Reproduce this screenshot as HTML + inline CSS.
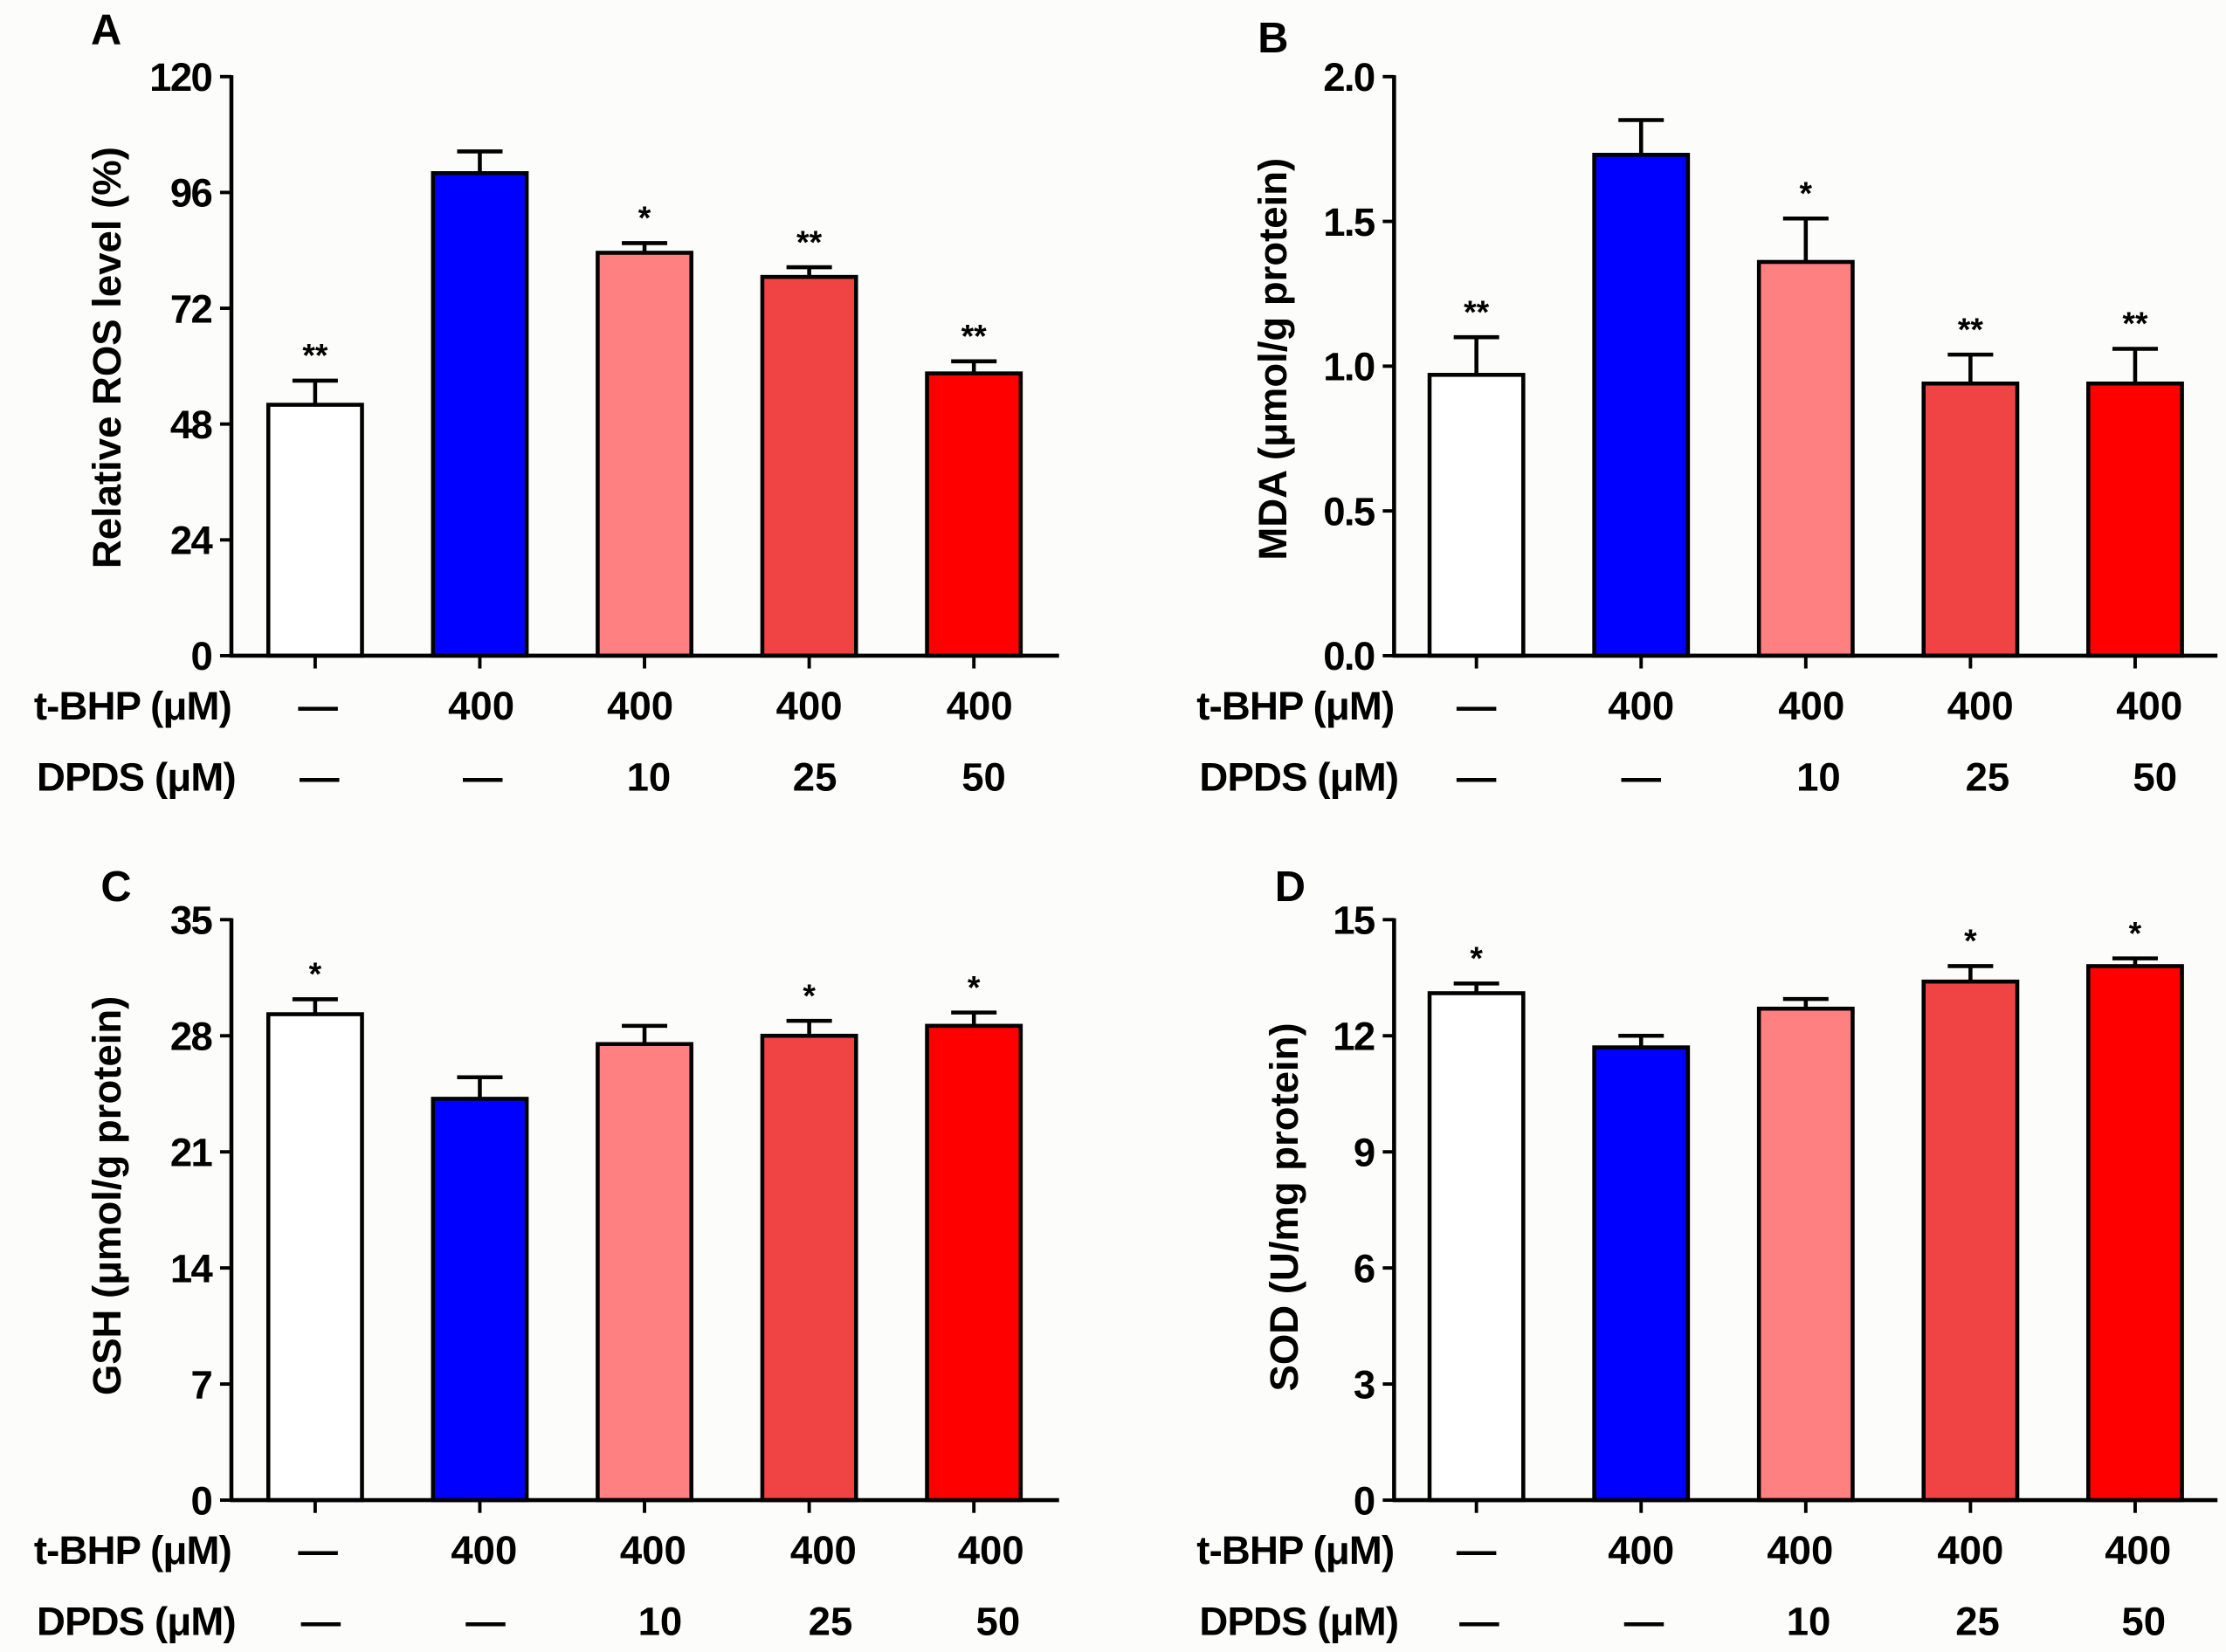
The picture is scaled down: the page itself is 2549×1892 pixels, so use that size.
<!DOCTYPE html>
<html><head><meta charset="utf-8">
<style>
html,body{margin:0;padding:0;background:#fcfcfa;}
svg{display:block;}
text{font-family:"Liberation Sans",Arial,sans-serif;font-weight:bold;fill:#000;}
</style></head>
<body>
<svg id="fig" width="2549" height="1892" viewBox="0 0 1568 1164" preserveAspectRatio="none" xmlns="http://www.w3.org/2000/svg"></svg>
<script>
// ---- data ----
const categories = ["control","tBHP","tBHP+DPDS10","tBHP+DPDS25","tBHP+DPDS50"];
const tbhpLabels = ["—","400","400","400","400"];
const dpdsLabels = ["—","—","10","25","50"];
const barColors = ["#ffffff","#0000ff","#ff8080","#f04343","#ff0000"];

const rosValues = [52, 100, 83.5, 78.5, 58.5];
const rosErrors = [5, 4.5, 2, 2, 2.5];
const rosStars = ["**","","*","**","**"];
const rosTicks = [0,24,48,72,96,120];

const mdaValues = [0.97, 1.73, 1.36, 0.94, 0.94];
const mdaErrors = [0.13, 0.12, 0.15, 0.10, 0.12];
const mdaStars = ["**","","*","**","**"];
const mdaTicks = ["0.0","0.5","1.0","1.5","2.0"];

const gshValues = [29.3, 24.2, 27.5, 28.0, 28.6];
const gshErrors = [0.9, 1.3, 1.1, 0.9, 0.8];
const gshStars = ["*","","","*","*"];
const gshTicks = [0,7,14,21,28,35];

const sodValues = [13.1, 11.7, 12.7, 13.4, 13.8];
const sodErrors = [0.25, 0.3, 0.25, 0.4, 0.2];
const sodStars = ["*","","","*","*"];
const sodTicks = [0,3,6,9,12,15];

const svg = document.getElementById('fig');
const NS = "http://www.w3.org/2000/svg";
function mk(tag, attrs, parent){
  const e = document.createElementNS(NS, tag);
  for (const k in attrs) e.setAttribute(k, attrs[k]);
  (parent||svg).appendChild(e);
  return e;
}

function panel(cfg){
  const g = mk('g', {});
  
  
  const ax = cfg.ax, top = cfg.top, bot = cfg.bot, xend = cfg.xend;
  const ymax = parseFloat(cfg.ticks[cfg.ticks.length-1]);
  const yS = v => bot - (v / ymax) * (bot - top);
  const xS = i => cfg.x0 + i * cfg.step;
  const bw = 66;

  const L = mk('text', {x: cfg.lx, y: cfg.ly, 'font-size': 30}, g);
  L.textContent = cfg.letter;
  
  

  cfg.values.forEach((v, i) => {
    const x = xS(i), y = yS(v), ye = yS(v + cfg.errors[i]);
    const eb = mk('path', {d: `M${x},${y} V${ye} M${x-16},${ye} H${x+16}`, stroke:'#000', 'stroke-width':2.8, fill:'none'}, g);
    
    
    const r = mk('rect', {x: x - bw/2, y: y, width: bw, height: bot - y, fill: barColors[i], stroke:'#000', 'stroke-width':2.8}, g);
    
    
    if (cfg.stars[i]) {
      const s = mk('text', {x: x, y: ye - 10, 'font-size': 23, 'text-anchor':'middle'}, g);
      s.textContent = cfg.stars[i];
      
      
    }
    const tk = mk('line', {x1:x, x2:x, y1:bot, y2:bot+9, stroke:'#000', 'stroke-width':2.4}, g);
    
    
  });

  const ya = mk('line', {x1:ax, x2:ax, y1:top-1, y2:bot+1, stroke:'#000', 'stroke-width':2.8}, g);
  
  
  const xa = mk('line', {x1:ax-1, x2:xend, y1:bot, y2:bot, stroke:'#000', 'stroke-width':2.8}, g);
  
  

  cfg.ticks.forEach(t => {
    const y = yS(parseFloat(t));
    const l = mk('line', {x1:ax-8, x2:ax, y1:y, y2:y, stroke:'#000', 'stroke-width':2.4}, g);
    
    
    const tx = mk('text', {x: ax - 14, y: y + 10, 'font-size': 28, 'text-anchor':'end', 'letter-spacing':'-1'}, g);
    tx.textContent = t;
    
    
  });

  const cy = (top + bot)/2 + cfg.tyOff;
  const yt = mk('text', {x: cfg.tx, y: cy, 'font-size': 28, 'text-anchor':'middle', transform:`rotate(-90 ${cfg.tx} ${cy})`}, g);
  yt.textContent = cfg.title;
  
  

  const r1 = bot + 45, r2 = bot + 95;
  const rl1 = mk('text', {x: ax, y: r1, 'font-size': 28, 'text-anchor':'end', 'letter-spacing':'-0.5'}, g);
  rl1.textContent = "t-BHP (μM)";
  
  
  const rl2 = mk('text', {x: ax + 3, y: r2, 'font-size': 28, 'text-anchor':'end', 'letter-spacing':'-0.5'}, g);
  rl2.textContent = "DPDS (μM)";
  
  
  categories.forEach((c, i) => {
    const a = mk('text', {x: cfg.r1x[i], y: r1, 'font-size': 28, 'text-anchor':'middle'}, g);
    a.textContent = tbhpLabels[i];
    
    
    const b = mk('text', {x: cfg.r2x[i], y: r2, 'font-size': 28, 'text-anchor':'middle'}, g);
    b.textContent = dpdsLabels[i];
    
    
  });
}

panel({letter:'A', lx:64, ly:31, ax:163, top:54, bot:462, xend:746, x0:222, step:116,
  values:rosValues, errors:rosErrors, stars:rosStars, ticks:rosTicks.map(String),
  title:'Relative  ROS level (%)', tx:85, tyOff:-6,
  r1x:[224,339,451,570,690], r2x:[225,340,457,574,693]});
panel({letter:'B', lx:886, ly:37, ax:982, top:54, bot:462, xend:1562, x0:1040, step:116,
  values:mdaValues, errors:mdaErrors, stars:mdaStars, ticks:mdaTicks,
  title:'MDA (μmol/g protein)', tx:906, tyOff:-5,
  r1x:[1040,1156,1276,1395,1514], r2x:[1040,1156,1281,1400,1518]});
panel({letter:'C', lx:71, ly:635, ax:163, top:648, bot:1057, xend:746, x0:222, step:116,
  values:gshValues, errors:gshErrors, stars:gshStars, ticks:gshTicks.map(String),
  title:'GSH (μmol/g protein)', tx:85, tyOff:-10,
  r1x:[224,341,460,580,698], r2x:[226,342,465,585,703]});
panel({letter:'D', lx:898, ly:635, ax:982, top:648, bot:1057, xend:1562, x0:1040, step:116,
  values:sodValues, errors:sodErrors, stars:sodStars, ticks:sodTicks.map(String),
  title:'SOD (U/mg protein)', tx:914, tyOff:-2,
  r1x:[1040,1156,1268,1388,1506], r2x:[1042,1158,1274,1393,1510]});
</script>
</body></html>
